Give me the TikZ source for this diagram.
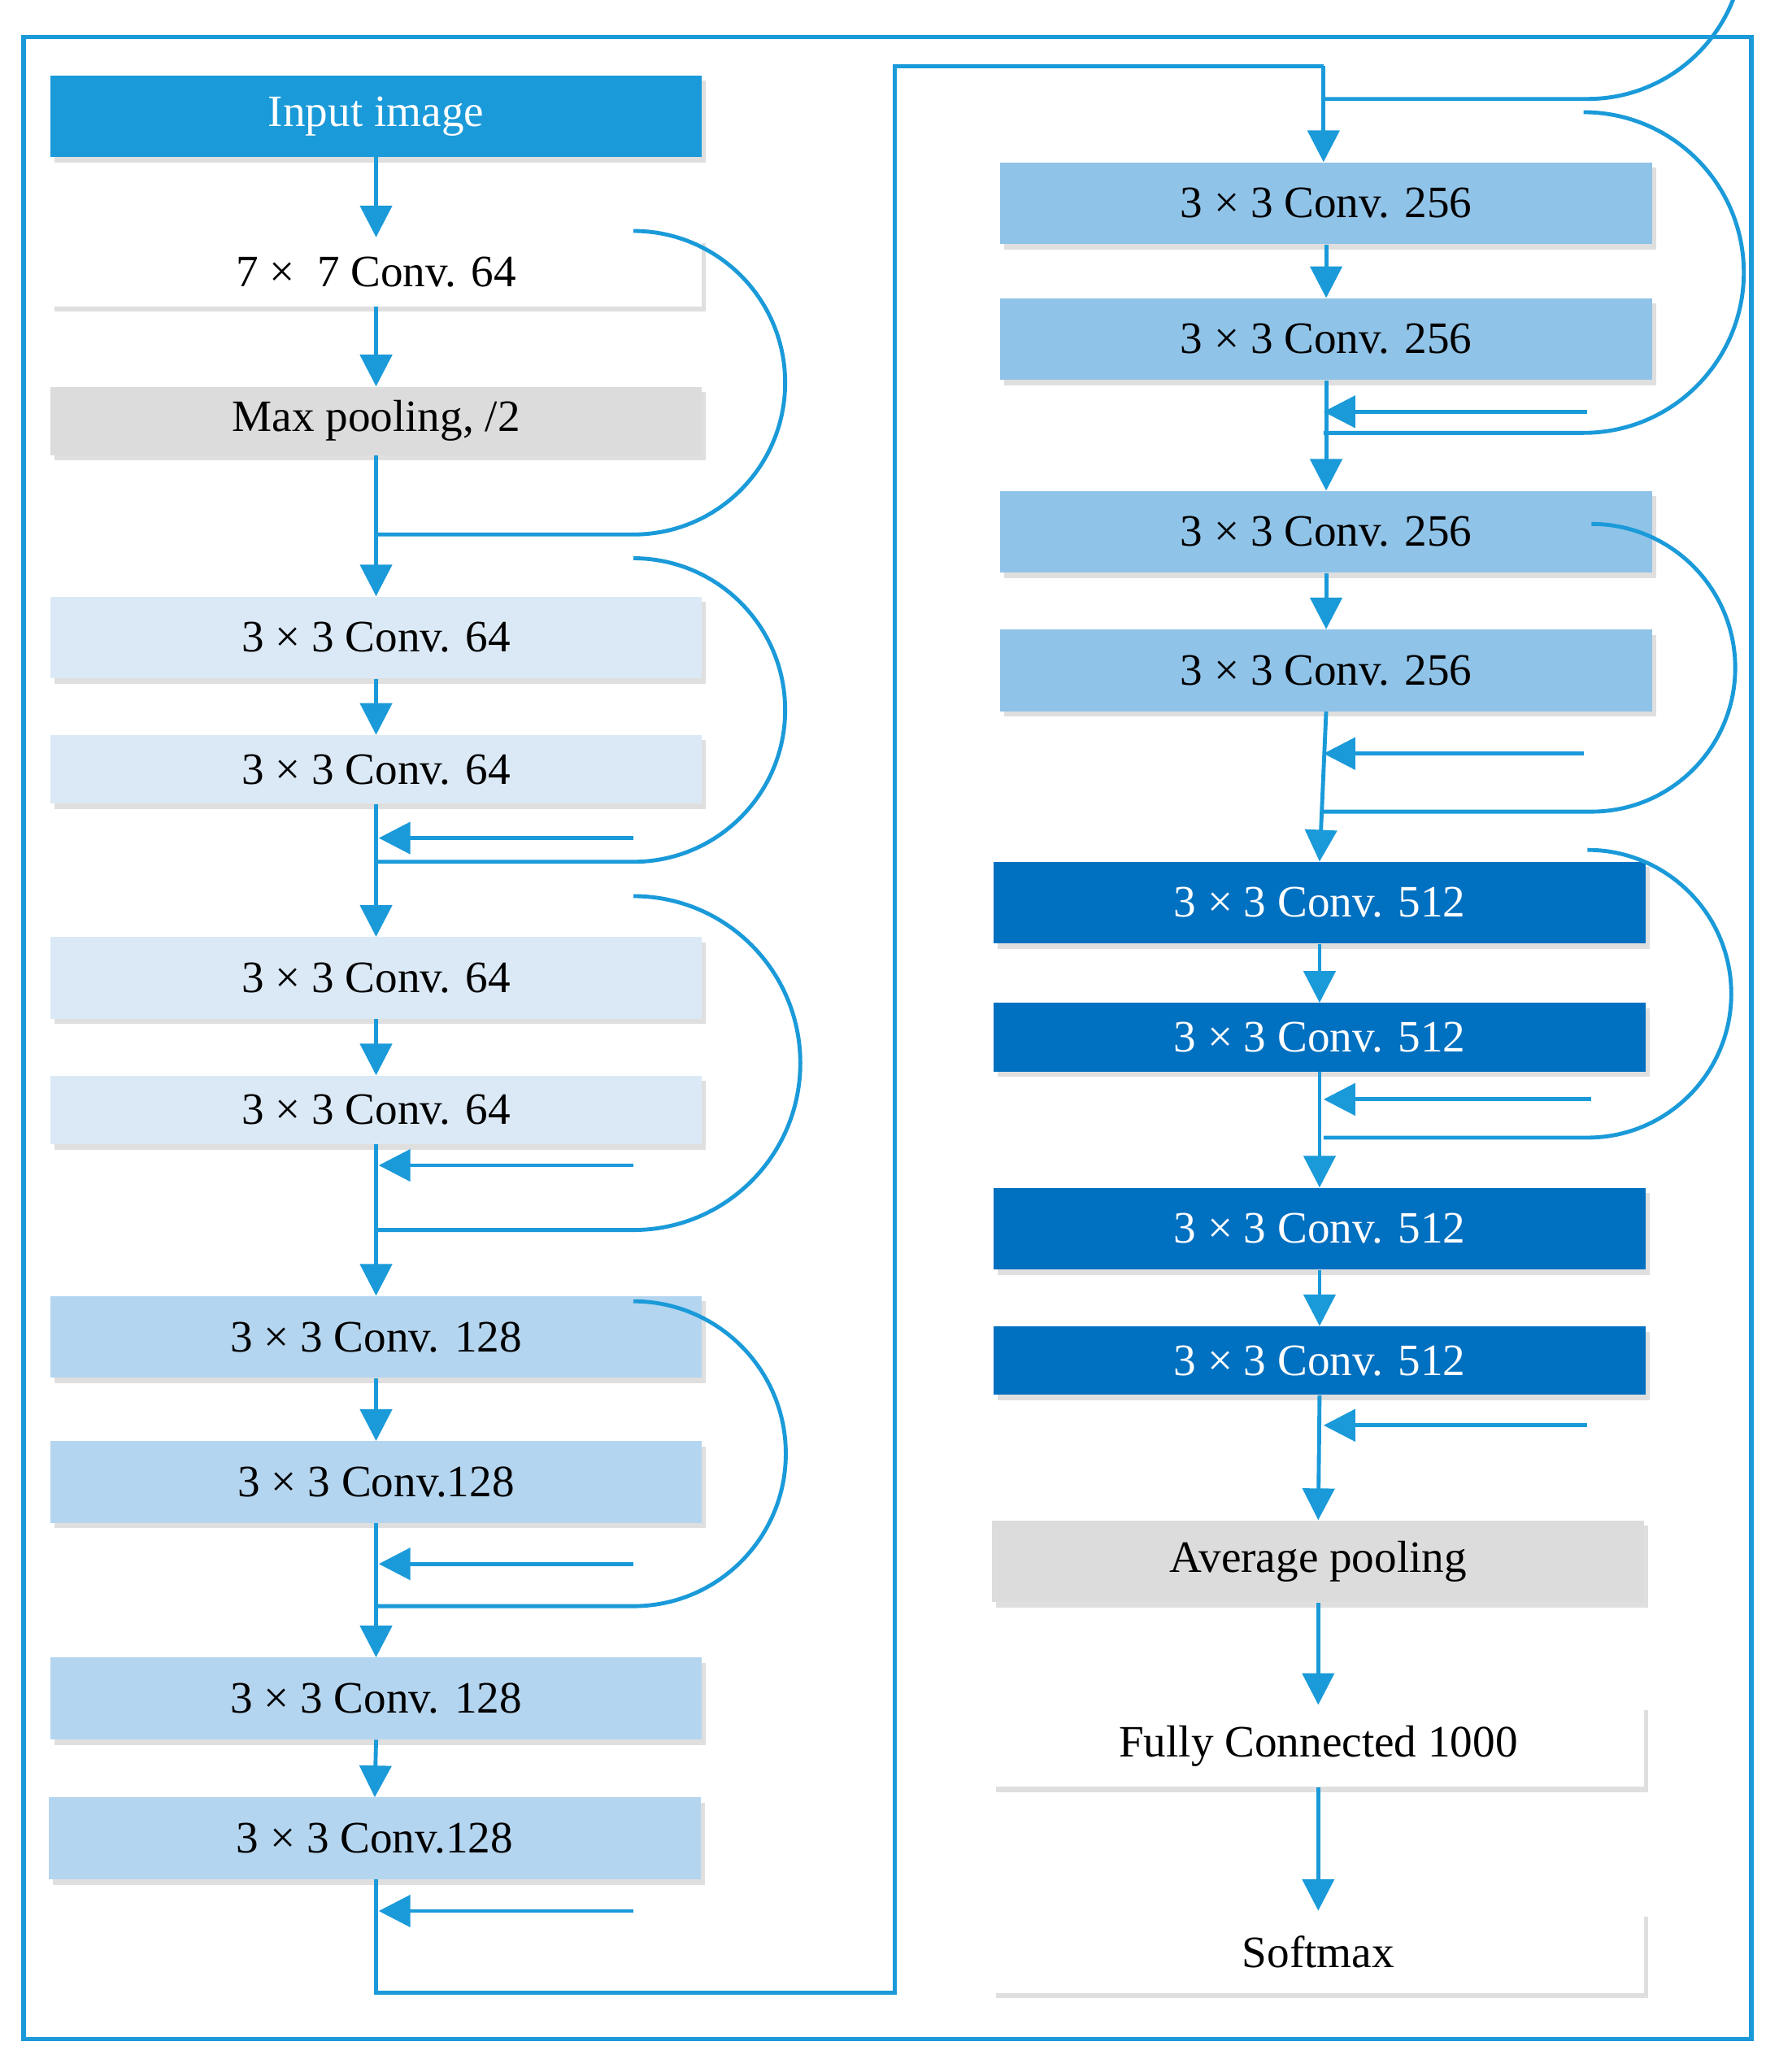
\documentclass[tikz,border=0pt]{standalone}
\usepackage{fontspec}
\setmainfont{Liberation Serif}
\usetikzlibrary{arrows.meta,shadows}
\definecolor{lb}{HTML}{1A9AD9}
\definecolor{c64}{HTML}{DBE9F6}
\definecolor{c128}{HTML}{B4D5EF}
\definecolor{c256}{HTML}{90C3E8}
\definecolor{c512}{HTML}{0070C0}
\definecolor{gr}{HTML}{DCDCDC}
\begin{document}
\begin{tikzpicture}[x=1pt,y=-1pt,
 bx/.style={minimum width=494pt,minimum height=62pt,inner sep=0pt,font=\fontsize{34}{36}\selectfont,drop shadow={shadow xshift=3pt,shadow yshift=-4pt,opacity=0.25}},
 arr/.style={draw=lb,line width=3pt,-{Triangle[length=24pt,width=24pt]}},
 ln/.style={draw=lb,line width=3pt}]
\useasboundingbox (0,0) rectangle (1348,1570);
\draw[lb,line width=3.5pt] (18,28) rectangle (1327,1545);
% left
\node[bx,fill=lb,text=white] (in) at (285,88) {Input image};
\node[bx,fill=white,minimum height=52pt] (c7) at (285,206) {7 ×\ \ 7 Conv. 64};
\node[bx,fill=gr,minimum height=52pt] (mp) at (285,319) {Max pooling, /2};
\node[bx,fill=c64] (a1) at (285,483) {3 × 3 Conv. 64};
\node[bx,fill=c64,minimum height=52pt] (a2) at (285,583) {3 × 3 Conv. 64};
\node[bx,fill=c64] (a3) at (285,741) {3 × 3 Conv. 64};
\node[bx,fill=c64,minimum height=52pt] (a4) at (285,841) {3 × 3 Conv. 64};
\node[bx,fill=c128] (b1) at (285,1013) {3 × 3 Conv. 128};
\node[bx,fill=c128] (b2) at (285,1123) {3 × 3 Conv.128};
\node[bx,fill=c128] (b3) at (285,1287) {3 × 3 Conv. 128};
\node[bx,fill=c128] (b4) at (284,1393) {3 × 3 Conv.128};
% right
\node[bx,fill=c256] (d1) at (1005,154) {3 × 3 Conv. 256};
\node[bx,fill=c256] (d2) at (1005,257) {3 × 3 Conv. 256};
\node[bx,fill=c256] (d3) at (1005,403) {3 × 3 Conv. 256};
\node[bx,fill=c256] (d4) at (1005,508) {3 × 3 Conv. 256};
\node[bx,fill=c512,text=white] (e1) at (1000,684) {3 × 3 Conv. 512};
\node[bx,fill=c512,text=white,minimum height=52pt] (e2) at (1000,786) {3 × 3 Conv. 512};
\node[bx,fill=c512,text=white] (e3) at (1000,931) {3 × 3 Conv. 512};
\node[bx,fill=c512,text=white,minimum height=52pt] (e4) at (1000,1031) {3 × 3 Conv. 512};
\node[bx,fill=gr] (ap) at (999,1183) {Average pooling};
\node[bx,fill=white] (fc) at (999,1323) {Fully Connected 1000};
\node[bx,fill=white] (sm) at (999,1479) {Softmax};
% straight arrows
\foreach \u/\v in {in/c7,c7/mp,mp/a1,a1/a2,a2/a3,a3/a4,a4/b1,b1/b2,b2/b3,b3/b4,d1/d2,d2/d3,d3/d4,d4/e1,e1/e2,e2/e3,e3/e4,e4/ap,ap/fc,fc/sm}
  \draw[arr] (\u.south) -- (\v.north);
% left loops
\foreach \t/\b in {405/635,653/883,932/1185,1217/1448}{
  \pgfmathsetmacro\r{(\b-\t)/2}
  \draw[ln] (285,\t) -- (480,\t) arc[start angle=90,end angle=-90,radius=\r];
  \draw[arr] (480,\b) -- (287,\b);
}
% right loops
\foreach \t/\b/\x in {75/312/1203,328/571/1200,615/833/1206,862/1080/1203}{
  \pgfmathsetmacro\r{(\b-\t)/2}
  \draw[ln] (1003,\t) -- (\x,\t) arc[start angle=90,end angle=-90,radius=\r];
  \draw[arr] (\x,\b) -- (1003,\b);
}
% connection
\coordinate (p1) at (285,1510);
\coordinate (p2) at (678,1510);
\coordinate (p3) at (678,50);
\coordinate (p4) at (1003,50);
\draw[ln] (b4.south -| p1) -- (p1) -- (p2) -- (p3) -- (p4);
\draw[arr] (p4) -- (d1.north -| p4);
\end{tikzpicture}
\end{document}
